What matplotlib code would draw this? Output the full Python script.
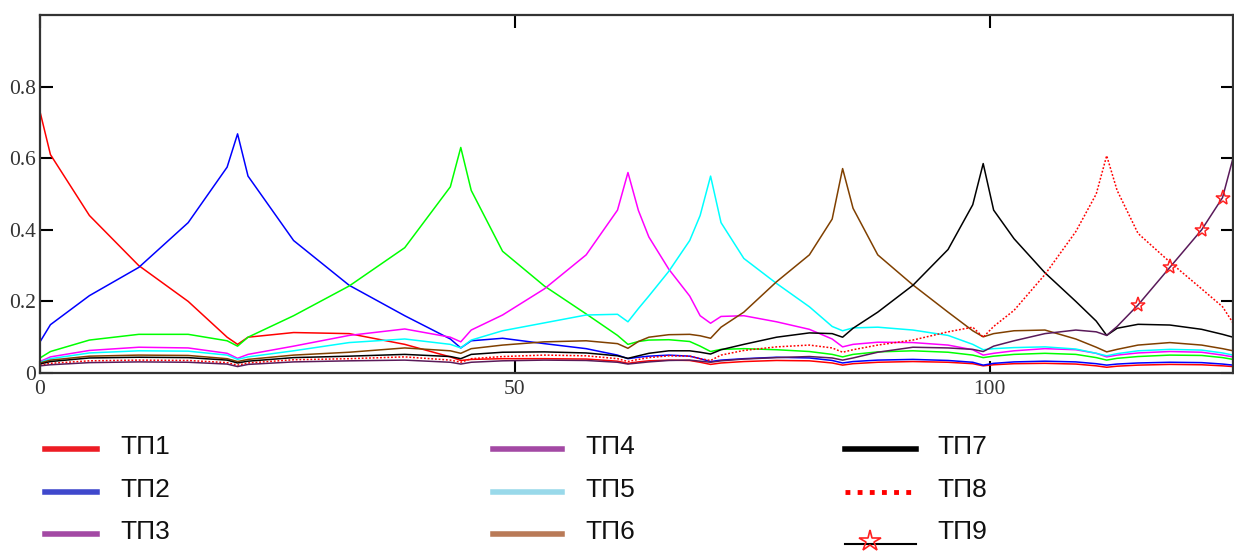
import matplotlib
matplotlib.use("Agg")
import matplotlib.pyplot as plt
from matplotlib.lines import Line2D

# distance along the line; ТП nodes at 0, 20.8, 44.3, 61.9, 70.6, 84.5, 99.3, 112.3, 125.6
x = [0, 1.1, 5.2, 10.4, 15.6, 19.7,
     20.8, 21.9, 26.7, 32.55, 38.4, 43.2,
     44.3, 45.4, 48.7, 53.1, 57.5, 60.8,
     61.9, 63.0, 64.1, 66.2, 68.4, 69.5,
     70.6, 71.7, 74.1, 77.55, 81.0, 83.4,
     84.5, 85.6, 88.2, 91.9, 95.6, 98.2,
     99.3, 100.4, 102.55, 105.8, 109.05, 111.2,
     112.3, 113.4, 115.6, 118.95, 122.3, 124.5,
     125.6]

tp1 = [0.73, 0.61, 0.44, 0.30, 0.20, 0.10,
       0.08, 0.10, 0.113, 0.11, 0.08, 0.045,
       0.035, 0.038, 0.04, 0.04, 0.039, 0.033,
       0.027, 0.031, 0.034, 0.036, 0.035, 0.03,
       0.024, 0.028, 0.032, 0.035, 0.034, 0.028,
       0.022, 0.026, 0.03, 0.032, 0.03, 0.026,
       0.02, 0.023, 0.026, 0.027, 0.025, 0.02,
       0.016, 0.019, 0.022, 0.024, 0.023, 0.02,
       0.018]
tp2 = [0.087, 0.135, 0.216, 0.295, 0.42, 0.575,
       0.668, 0.55, 0.37, 0.245, 0.16, 0.095,
       0.07, 0.09, 0.097, 0.082, 0.068, 0.05,
       0.04, 0.044, 0.047, 0.05, 0.047, 0.04,
       0.032, 0.036, 0.04, 0.044, 0.042, 0.035,
       0.028, 0.032, 0.036, 0.038, 0.035, 0.03,
       0.022, 0.027, 0.031, 0.033, 0.031, 0.026,
       0.022, 0.025, 0.028, 0.03, 0.029, 0.025,
       0.022]
tp3 = [0.042, 0.06, 0.092, 0.108, 0.108, 0.09,
       0.075, 0.10, 0.16, 0.243, 0.35, 0.52,
       0.63, 0.51, 0.34, 0.243, 0.165, 0.105,
       0.08, 0.088, 0.092, 0.093, 0.088, 0.075,
       0.06, 0.066, 0.068, 0.065, 0.06, 0.052,
       0.045, 0.052, 0.059, 0.062, 0.058, 0.05,
       0.043, 0.047, 0.052, 0.055, 0.052, 0.043,
       0.036, 0.041, 0.046, 0.05, 0.049, 0.043,
       0.038]
tp4 = [0.032, 0.045, 0.063, 0.072, 0.07, 0.055,
       0.041, 0.052, 0.075, 0.105, 0.123, 0.1,
       0.087, 0.12, 0.162, 0.235, 0.33, 0.455,
       0.56, 0.454, 0.38, 0.29, 0.215, 0.16,
       0.139, 0.158, 0.16, 0.143, 0.122, 0.095,
       0.073, 0.08, 0.086, 0.085, 0.078, 0.065,
       0.05, 0.055, 0.062, 0.068, 0.065, 0.055,
       0.045, 0.05, 0.056, 0.06, 0.058, 0.05,
       0.045]
tp5 = [0.03, 0.04, 0.056, 0.062, 0.061, 0.05,
       0.038, 0.045, 0.062, 0.085, 0.095, 0.08,
       0.07, 0.092, 0.118, 0.14, 0.162, 0.164,
       0.143, 0.18, 0.215, 0.284, 0.37, 0.44,
       0.55, 0.42, 0.32, 0.25, 0.185, 0.13,
       0.118, 0.126, 0.128, 0.12, 0.105, 0.08,
       0.065, 0.068, 0.071, 0.073, 0.067, 0.055,
       0.048, 0.054, 0.062, 0.066, 0.064, 0.056,
       0.05]
tp6 = [0.028, 0.036, 0.047, 0.05, 0.049, 0.04,
       0.032, 0.038, 0.05, 0.058, 0.07, 0.062,
       0.055, 0.068, 0.078, 0.087, 0.09, 0.082,
       0.069, 0.088, 0.1, 0.107, 0.108, 0.104,
       0.097, 0.128, 0.17, 0.255, 0.33, 0.43,
       0.571, 0.46, 0.33, 0.246, 0.17, 0.118,
       0.101, 0.11, 0.118, 0.12, 0.095, 0.072,
       0.059, 0.066, 0.078, 0.085, 0.078, 0.068,
       0.062]
tp7 = [0.025, 0.032, 0.042, 0.044, 0.043, 0.036,
       0.028, 0.033, 0.043, 0.047, 0.052, 0.046,
       0.04, 0.052, 0.058, 0.059, 0.056, 0.048,
       0.041, 0.048, 0.055, 0.062, 0.062, 0.058,
       0.053, 0.065, 0.08, 0.1, 0.112, 0.11,
       0.1, 0.125, 0.17, 0.245, 0.345, 0.47,
       0.585, 0.455, 0.375, 0.28, 0.2, 0.145,
       0.105, 0.125, 0.136, 0.134, 0.122, 0.108,
       0.1]
tp8 = [0.022, 0.027, 0.034, 0.036, 0.035, 0.029,
       0.022, 0.028, 0.037, 0.04, 0.045, 0.036,
       0.03, 0.04, 0.046, 0.05, 0.048, 0.04,
       0.032, 0.038, 0.043, 0.048, 0.047, 0.04,
       0.035, 0.05, 0.063, 0.073, 0.078, 0.07,
       0.058, 0.065, 0.078, 0.092, 0.115, 0.128,
       0.1, 0.13, 0.175, 0.275, 0.395, 0.5,
       0.607, 0.51, 0.39, 0.31, 0.235, 0.185,
       0.14]
tp9 = [0.02, 0.023, 0.029, 0.031, 0.03, 0.025,
       0.018, 0.024, 0.031, 0.034, 0.036, 0.03,
       0.025, 0.03, 0.034, 0.036, 0.035, 0.03,
       0.025, 0.028, 0.031, 0.035, 0.036, 0.033,
       0.03, 0.034, 0.039, 0.043, 0.046, 0.042,
       0.036, 0.042, 0.058, 0.072, 0.07, 0.066,
       0.06, 0.075, 0.09, 0.11, 0.12, 0.115,
       0.105, 0.13, 0.19, 0.295, 0.40, 0.49,
       0.60]

series = [tp1, tp2, tp3, tp4, tp5, tp6, tp7, tp8, tp9]
line_colors = ["#ff0000", "#0000ff", "#00ff00", "#ff00ff", "#00ffff",
               "#804000", "#000000", "#ff0000", "#5a1a5a"]

labels = ["ТП1", "ТП2", "ТП3", "ТП4", "ТП5", "ТП6", "ТП7", "ТП8", "ТП9"]
legend_colors = ["#ed1c24", "#3f48cc", "#a349a4", "#a349a4", "#99d9ea",
                 "#b97a57", "#000000", "#ff0000", "#000000"]

xticks = [0, 50, 100]
yticks = [0, 0.2, 0.4, 0.6, 0.8]
ytick_labels = ["0", "0.2", "0.4", "0.6", "0.8"]

fig = plt.figure(figsize=(12.34, 5.53), dpi=100)
ax = fig.add_axes([40 / 1234, 1 - 373 / 553, 1193 / 1234, 358 / 553])

for i, (vals, c) in enumerate(zip(series, line_colors)):
    if i == 7:
        ax.plot(x, vals, color=c, lw=1.1, ls=(0, (1.2, 1.2)))
    elif i == 8:
        ax.plot(x, vals, color=c, lw=1.1, marker="*", ms=11, mfc="none",
                mec="#ff2020", mew=1.1, markevery=[44, 45, 46, 47])
    else:
        ax.plot(x, vals, color=c, lw=1.1)

ax.set_xlim(0, 125.6)
ax.set_ylim(0, 1.0)
ax.set_xticks(xticks)
ax.set_xticklabels([str(t) for t in xticks])
ax.set_yticks(yticks)
ax.set_yticklabels(ytick_labels)
ax.tick_params(direction="in", length=9, width=1.5, top=True, right=True,
               labelsize=15.5, labelcolor="#333333")
ax.tick_params(axis="y", pad=3)
ax.tick_params(axis="x", pad=5)
for lbl in ax.get_xticklabels() + ax.get_yticklabels():
    lbl.set_fontfamily("Liberation Serif")
for sp in ax.spines.values():
    sp.set_linewidth(1.6)
    sp.set_color("#333333")

# legend drawn below the plot in three columns
col_line_x = [(45, 97), (493, 562), (845, 916)]
col_text_x = [120, 585, 937]
row_y = [447, 490, 532]
for i, lab in enumerate(labels):
    col, row = i // 3, i % 3
    x0, x1 = col_line_x[col]
    yl = 1 - (row_y[row] + 2) / 553
    fx = [x0 / 1234, x1 / 1234]
    if i == 7:
        fig.add_artist(Line2D(fx, [yl, yl], transform=fig.transFigure, color=legend_colors[i],
                              lw=3.5, ls=(0, (1, 1.5)), solid_capstyle="round"))
    elif i == 8:
        yb = 1 - 544 / 553
        fig.add_artist(Line2D(fx, [yb, yb], transform=fig.transFigure, color="#000000", lw=1.5))
        fig.add_artist(Line2D([870 / 1234], [yb + 0.006], transform=fig.transFigure,
                              marker="*", ms=16, mfc="none", mec="#ff2020", mew=1.2))
    else:
        fig.add_artist(Line2D(fx, [yl, yl], transform=fig.transFigure, color=legend_colors[i],
                              lw=4))
    fig.text(col_text_x[col] / 1234, 1 - row_y[row] / 553, lab, fontsize=19,
             family="Liberation Sans", color="#111111", va="center", ha="left")

fig.savefig("out.png", dpi=100)
